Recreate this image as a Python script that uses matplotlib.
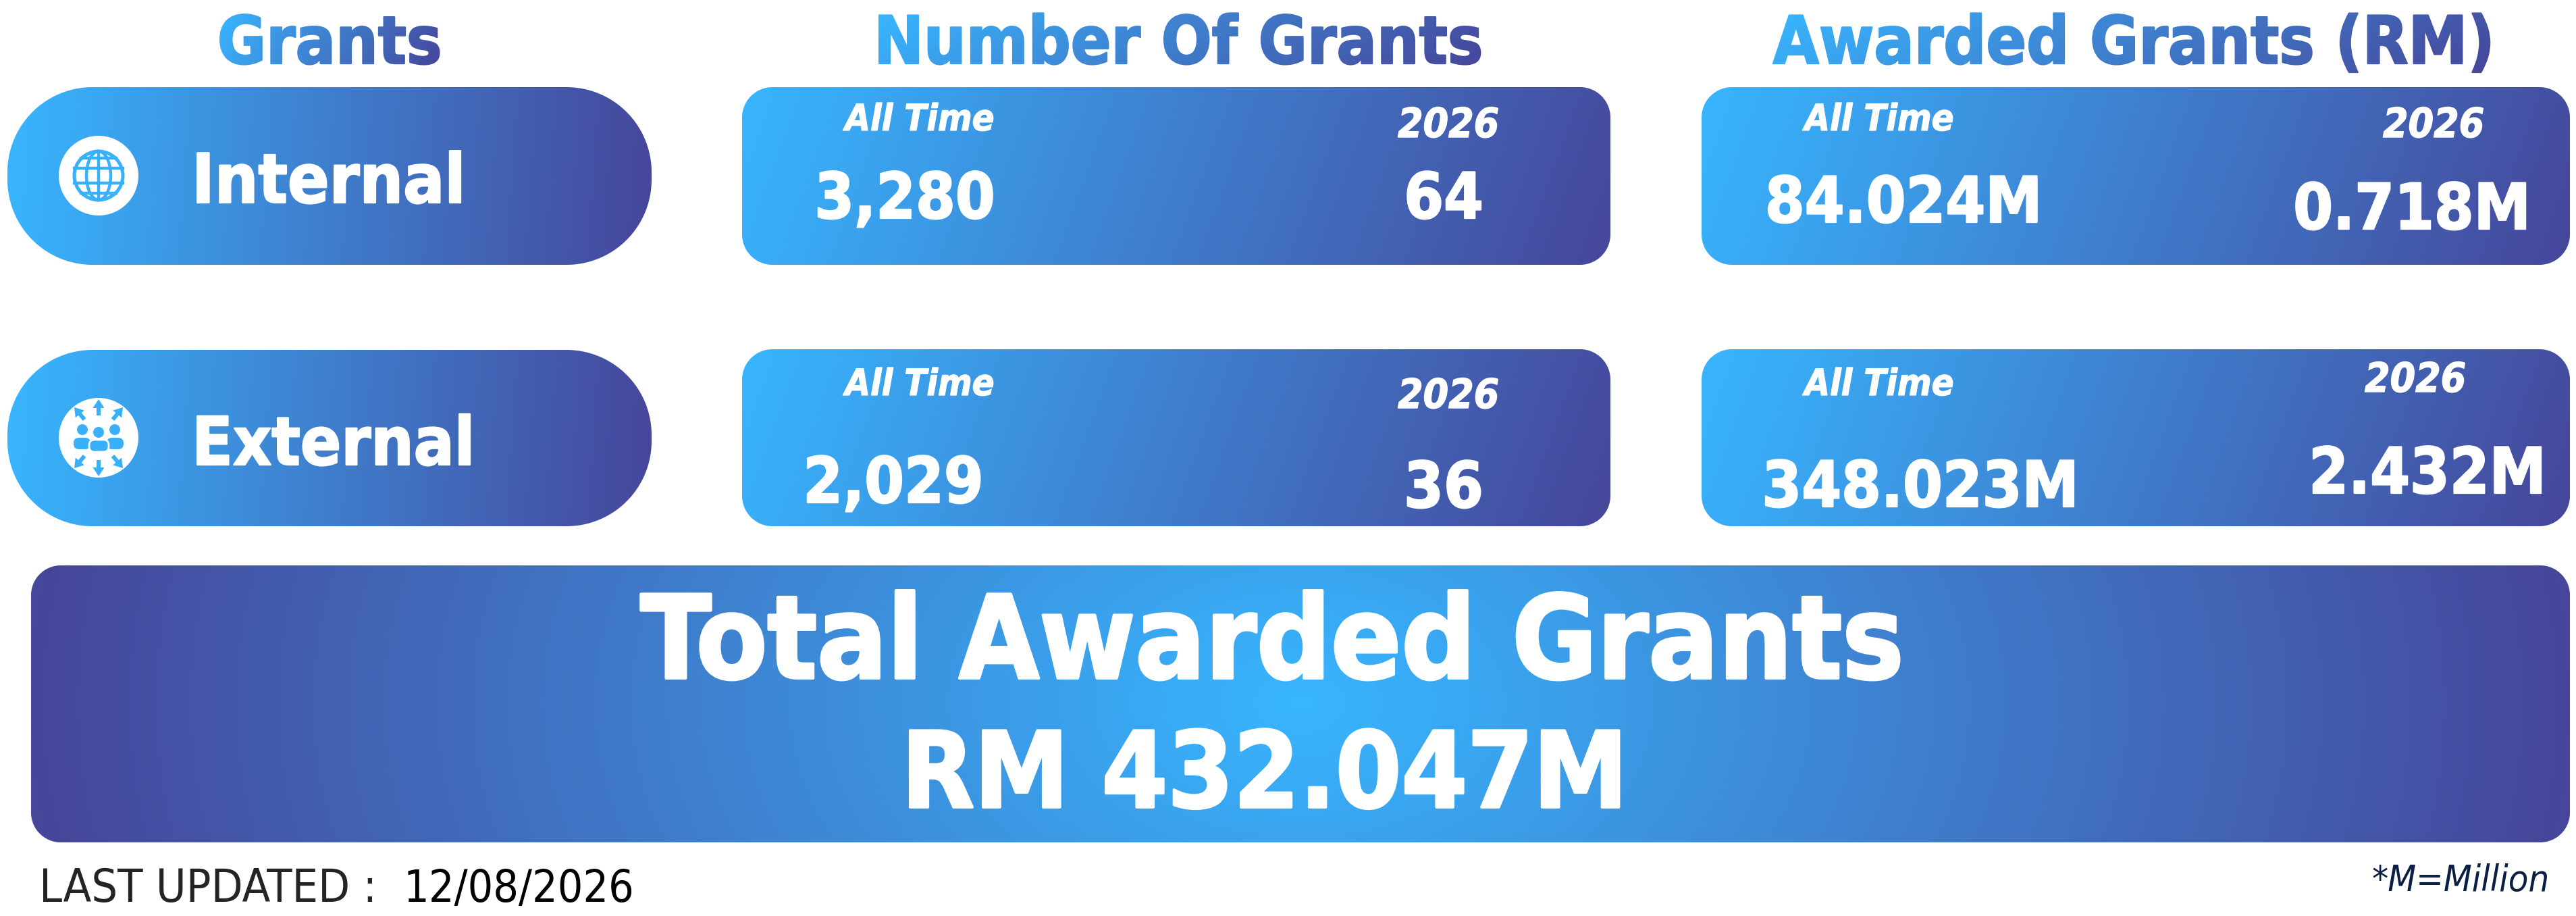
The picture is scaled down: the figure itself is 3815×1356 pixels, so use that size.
import numpy as np
import matplotlib
matplotlib.use("Agg")
import matplotlib.pyplot as plt
import matplotlib.patheffects as pe
from matplotlib.patches import Circle, Ellipse, Polygon, FancyBboxPatch
from matplotlib.lines import Line2D

# ---------- chart values ----------
columns = ["Grants", "Number Of Grants", "Awarded Grants (RM)"]
categories = ["Internal", "External"]
period_labels = ["All Time", "2026"]
count_all_time = ["3,280", "2,029"]
count_2026 = ["64", "36"]
amount_all_time = ["84.024M", "348.023M"]
amount_2026 = ["0.718M", "2.432M"]
total_title = "Total Awarded Grants"
total_value = "RM 432.047M"
updated_label = "LAST UPDATED :"
updated_date = "12/08/2026"
footnote = "*M=Million"

W, H, DPI = 3815, 1356, 100
LIGHT = np.array([0x38, 0xB6, 0xFF]) / 255
DARK = np.array([0x46, 0x46, 0x9A]) / 255

fig = plt.figure(figsize=(W / DPI, H / DPI), dpi=DPI, facecolor="white")
ax = fig.add_axes([0, 0, 1, 1])
ax.set_xlim(0, W)
ax.set_ylim(H, 0)
ax.set_autoscale_on(False)
ax.axis("off")

CONDENSED = dict(family="DejaVu Sans", stretch="condensed")


def px(em):
    return em * 72 / DPI


def rounded_image(x0, y0, x1, y1, r, tfunc, zorder=1):
    xs = np.arange(x0, x1) + 0.5
    ys = np.arange(y0, y1) + 0.5
    X, Y = np.meshgrid(xs, ys)
    qx = np.abs(X - (x0 + x1) / 2) - ((x1 - x0) / 2 - r)
    qy = np.abs(Y - (y0 + y1) / 2) - ((y1 - y0) / 2 - r)
    sdf = np.hypot(np.maximum(qx, 0), np.maximum(qy, 0)) + np.minimum(np.maximum(qx, qy), 0) - r
    alpha = np.clip(0.5 - sdf, 0, 1)
    t = np.clip(tfunc(X, Y), 0, 1)[..., None]
    rgb = LIGHT * (1 - t) + DARK * t
    rgba = np.dstack([rgb, alpha])
    ax.imshow(rgba, extent=(x0, x1, y1, y0), aspect="auto", interpolation="none", zorder=zorder)


def linear(x0, y0, x1, y1, deg):
    c, s = np.cos(np.radians(deg)), np.sin(np.radians(deg))
    w, h = x1 - x0, y1 - y0
    length = w * c + h * s
    return lambda X, Y: ((X - x0) * c + (Y - y0) * s) / length


def gradient_filter(image, dpi):
    h, w = image.shape[:2]
    X, Y = np.meshgrid(np.linspace(0, 1, w), np.linspace(0, 1, h))
    t = (0.88 * X + 0.12 * Y)[..., None]
    out = image.copy()
    out[..., :3] = LIGHT * (1 - t) + DARK * t
    return out, 0, 0


def label(x, y, s, em, ha="center", color="white", weight="bold", style="normal",
          gradient=False, embolden=0.012):
    txt = ax.text(x, y, s, fontsize=px(em), ha=ha, va="baseline", color=color,
                  fontweight=weight, fontstyle=style, zorder=5, **CONDENSED)
    if embolden:
        txt.set_path_effects([pe.withStroke(linewidth=2 * embolden * px(em), foreground=color)])
    if gradient:
        txt.set_agg_filter(gradient_filter)
    return txt


# ---------- headers ----------
for cx, s in zip([488, 1745, 3160], columns):
    label(cx, 94, s, 98, gradient=True)

# ---------- pills ----------
pill_rows = [(129, 392), (518, 779)]
for (y0, y1), name, tx, em, by in zip(pill_rows, categories, [284, 284], [101, 99], [300, 688]):
    rounded_image(11, y0, 965, y1, 126, linear(11, y0, 965, y1, 4))
    label(tx, by, name, em, ha="left")

# ---------- cards ----------
card_rows = [(129, 392), (517, 779)]
card_cols = [(1099, 2385), (2520, 3806)]
for (x0, x1) in card_cols:
    for (y0, y1) in card_rows:
        rounded_image(x0, y0, x1, y1, 45, linear(x0, y0, x1, y1, 20))

# All Time / year labels: (centre x, baseline y)
label(1362, 193, period_labels[0], 54, style="italic")
label(2145, 203, period_labels[1], 60, style="italic")
label(2783, 193, period_labels[0], 54, style="italic")
label(3604, 203, period_labels[1], 60, style="italic")
label(1362, 585, period_labels[0], 54, style="italic")
label(2145, 604, period_labels[1], 60, style="italic")
label(2783, 585, period_labels[0], 54, style="italic")
label(3577, 580, period_labels[1], 60, style="italic")

label(1340, 323, count_all_time[0], 94)
label(2138, 323, count_2026[0], 94)
label(2819, 329, amount_all_time[0], 94)
label(3572, 339, amount_2026[0], 94)
label(1323, 744, count_all_time[1], 94)
label(2138, 751, count_2026[1], 94)
label(2844, 750, amount_all_time[1], 94)
label(3595, 730, amount_2026[1], 94)

# ---------- total banner ----------
def banner(X, Y):
    return np.hypot((X - 1926) / 1880, (Y - 1040) / 1240)

rounded_image(46, 837, 3806, 1247, 44, banner)
label(1884, 1004, total_title, 171)
label(1873, 1195, total_value, 156)

# ---------- footer ----------
label(58, 1335, updated_label, 68, ha="left", weight="normal", color="#252423", embolden=0)
label(597, 1335, updated_date, 66, ha="left", weight="normal", color="black", embolden=0)
label(3776, 1319, footnote, 54, ha="right", weight="normal", style="italic", color="#0B1F44", embolden=0)

# ---------- icons ----------
ICON = "#38B0FA"
for cy in [260, 648]:
    ax.add_patch(Circle((146, cy), 59, fc="white", ec="none", zorder=3))

# globe
gx, gy = 146, 260
ax.add_patch(Circle((gx, gy), 36, fc="none", ec=ICON, lw=3.6, zorder=4))
ax.add_patch(Ellipse((gx, gy), 36, 72, fc="none", ec=ICON, lw=3.2, zorder=4))
for dy in (-11, 11):
    ax.add_line(Line2D([gx - 36, gx + 36], [gy + dy, gy + dy], color=ICON, lw=3.2, zorder=4))
ax.add_line(Line2D([gx, gx], [gy - 36, gy + 36], color=ICON, lw=3.2, zorder=4))
for dy in (-26, 26):
    ax.add_line(Line2D([gx - 26, gx + 26], [gy + dy, gy + dy], color=ICON, lw=3.2, zorder=4))

# people + arrows
ex, ey = 146, 648
for dx, dy, rw, rh in [(-24, -12, 8, 8), (24, -12, 8, 8), (0, -8, 8, 8)]:
    ax.add_patch(Ellipse((ex + dx, ey + dy), 2 * rw, 2 * rh, fc=ICON, ec="none", zorder=4))
# side bodies first, then the white-edged middle body in front
for bx0, by0, bx1, by1, edge in [(-37, 0, -12, 17, "none"), (12, 0, 37, 17, "none"), (-14, 3, 15, 21, "white")]:
    ax.add_patch(FancyBboxPatch((ex + bx0, ey + by0), bx1 - bx0, by1 - by0,
                                boxstyle="round,pad=0,rounding_size=8", fc=ICON, ec=edge, lw=2, zorder=4))


def arrow(tx, ty, bx, by, head=8.5, shaft=3.0, head_len=13):
    d = np.array([tx - bx, ty - by], float)
    length = np.hypot(*d)
    d /= length
    n = np.array([-d[1], d[0]])
    t = np.array([tx, ty], float)
    b = np.array([bx, by], float)
    m = t - d * head_len
    pts = [t, m + n * head, m + n * shaft, b + n * shaft, b - n * shaft, m - n * shaft, m - n * head]
    ax.add_patch(Polygon(pts, closed=True, fc=ICON, ec="none", zorder=4))


for tdx, tdy, bdx, bdy in [(0, -57, 0, -33), (0, 57, 0, 33),
                           (-36, -45, -21, -27), (36, -45, 21, -27),
                           (-36, 45, -21, 27), (36, 45, 21, 27)]:
    arrow(ex + tdx, ey + tdy, ex + bdx, ey + bdy)

fig.savefig("out.png", dpi=DPI, facecolor="white")
